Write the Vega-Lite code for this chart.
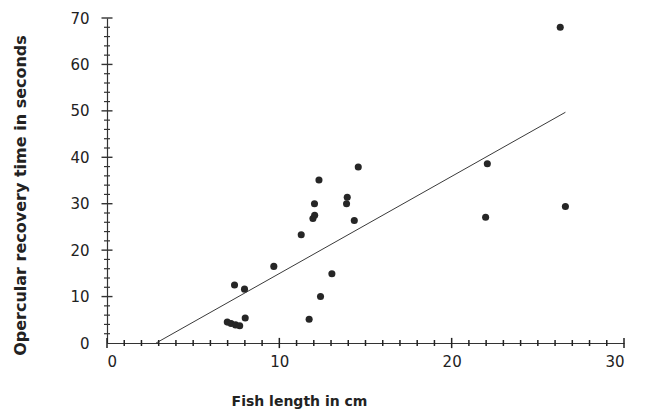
{
  "$schema": "https://vega.github.io/schema/vega-lite/v6.json",
  "autosize": {"type": "none"},
  "padding": {"left": 107, "top": 18, "right": 22, "bottom": 70},
  "width": 517,
  "height": 325,
  "background": "white",
  "config": {
    "view": {"stroke": null},
    "axis": {
      "grid": false,
      "ticks": false,
      "domainColor": "#333333",
      "domainWidth": 1.2,
      "labelFont": "DejaVu Sans",
      "labelFontSize": 15,
      "labelColor": "#222222",
      "titleFont": "DejaVu Sans",
      "titleFontWeight": "bold",
      "titleColor": "#222222"
    }
  },
  "datasets": {
    "points": [
      {"length": 26.3, "time": 68.0},
      {"length": 26.6, "time": 29.4},
      {"length": 22.07, "time": 38.6},
      {"length": 21.97, "time": 27.1},
      {"length": 14.58, "time": 37.9},
      {"length": 12.3, "time": 35.1},
      {"length": 12.04, "time": 30.0},
      {"length": 13.94, "time": 31.4},
      {"length": 13.9, "time": 30.0},
      {"length": 11.95, "time": 26.8},
      {"length": 12.05, "time": 27.5},
      {"length": 14.35, "time": 26.4},
      {"length": 11.27, "time": 23.3},
      {"length": 9.68, "time": 16.5},
      {"length": 13.05, "time": 14.9},
      {"length": 12.39, "time": 10.0},
      {"length": 11.73, "time": 5.1},
      {"length": 7.4, "time": 12.5},
      {"length": 7.98, "time": 11.6},
      {"length": 8.02, "time": 5.4},
      {"length": 6.98, "time": 4.5},
      {"length": 7.2, "time": 4.2},
      {"length": 7.46, "time": 3.9},
      {"length": 7.7, "time": 3.7}
    ],
    "fit": [
      {"length": 2.85, "time": 0},
      {"length": 26.6, "time": 49.7}
    ],
    "xticks": [
      {"v": 1, "kind": "minor"}, {"v": 2, "kind": "minor"}, {"v": 3, "kind": "minor"}, {"v": 4, "kind": "minor"}, {"v": 5, "kind": "minor"},
      {"v": 6, "kind": "minor"}, {"v": 7, "kind": "minor"}, {"v": 8, "kind": "minor"}, {"v": 9, "kind": "minor"},
      {"v": 11, "kind": "minor"}, {"v": 12, "kind": "minor"}, {"v": 13, "kind": "minor"}, {"v": 14, "kind": "minor"}, {"v": 15, "kind": "minor"},
      {"v": 16, "kind": "minor"}, {"v": 17, "kind": "minor"}, {"v": 18, "kind": "minor"}, {"v": 19, "kind": "minor"},
      {"v": 21, "kind": "minor"}, {"v": 22, "kind": "minor"}, {"v": 23, "kind": "minor"}, {"v": 24, "kind": "minor"}, {"v": 25, "kind": "minor"},
      {"v": 26, "kind": "minor"}, {"v": 27, "kind": "minor"}, {"v": 28, "kind": "minor"}, {"v": 29, "kind": "minor"},
      {"v": 0, "kind": "major"}, {"v": 10, "kind": "major"}, {"v": 20, "kind": "major"}, {"v": 30, "kind": "major"}
    ],
    "yticks": [
      {"v": 2, "kind": "minor"}, {"v": 4, "kind": "minor"}, {"v": 6, "kind": "minor"}, {"v": 8, "kind": "minor"},
      {"v": 12, "kind": "minor"}, {"v": 14, "kind": "minor"}, {"v": 16, "kind": "minor"}, {"v": 18, "kind": "minor"},
      {"v": 22, "kind": "minor"}, {"v": 24, "kind": "minor"}, {"v": 26, "kind": "minor"}, {"v": 28, "kind": "minor"},
      {"v": 32, "kind": "minor"}, {"v": 34, "kind": "minor"}, {"v": 36, "kind": "minor"}, {"v": 38, "kind": "minor"},
      {"v": 42, "kind": "minor"}, {"v": 44, "kind": "minor"}, {"v": 46, "kind": "minor"}, {"v": 48, "kind": "minor"},
      {"v": 52, "kind": "minor"}, {"v": 54, "kind": "minor"}, {"v": 56, "kind": "minor"}, {"v": 58, "kind": "minor"},
      {"v": 62, "kind": "minor"}, {"v": 64, "kind": "minor"}, {"v": 66, "kind": "minor"}, {"v": 68, "kind": "minor"},
      {"v": 10, "kind": "major"}, {"v": 20, "kind": "major"}, {"v": 30, "kind": "major"}, {"v": 40, "kind": "major"},
      {"v": 50, "kind": "major"}, {"v": 60, "kind": "major"}, {"v": 70, "kind": "major"}
    ]
  },
  "layer": [
    {
      "data": {"name": "points"},
      "mark": {"type": "circle", "size": 50, "color": "#262626", "opacity": 1},
      "encoding": {
        "x": {
          "field": "length", "type": "quantitative",
          "scale": {"domain": [0, 30], "nice": false, "zero": true},
          "axis": {
            "values": [0, 10, 20, 30],
            "labelPadding": 11,
            "title": "Fish length in cm",
            "titleFontSize": 14,
            "titleX": 192,
            "titleY": 58,
            "titleBaseline": "middle",
            "titleAlign": "center",
            "titleAnchor": null
          }
        },
        "y": {
          "field": "time", "type": "quantitative",
          "scale": {"domain": [0, 70], "nice": false},
          "axis": {
            "values": [0, 10, 20, 30, 40, 50, 60, 70],
            "labelPadding": 18,
            "title": "Opercular recovery time in seconds",
            "titleFontSize": 16,
            "titleX": -87,
            "titleY": 177,
            "titleBaseline": "middle",
            "titleAlign": "center",
            "titleAnchor": null
          }
        }
      }
    },
    {
      "data": {"name": "fit"},
      "mark": {"type": "line", "color": "#3a3a3a", "strokeWidth": 1},
      "encoding": {
        "x": {"field": "length", "type": "quantitative"},
        "y": {"field": "time", "type": "quantitative"}
      }
    },
    {
      "data": {"name": "xticks"},
      "transform": [{"filter": "datum.kind == 'minor'"}],
      "mark": {"type": "rule", "color": "#222222", "strokeWidth": 1.5, "xOffset": 0, "x2Offset": 0},
      "encoding": {
        "x": {"field": "v", "type": "quantitative"},
        "x2": {"field": "v"},
        "y": {"datum": 0.65},
        "y2": {"datum": -0.65}
      }
    },
    {
      "data": {"name": "xticks"},
      "transform": [{"filter": "datum.kind == 'major'"}],
      "mark": {"type": "rule", "color": "#222222", "strokeWidth": 1.5},
      "encoding": {
        "x": {"field": "v", "type": "quantitative"},
        "x2": {"field": "v"},
        "y": {"datum": 1.1},
        "y2": {"datum": -1.1}
      }
    },
    {
      "data": {"name": "yticks"},
      "transform": [{"filter": "datum.kind == 'minor'"}],
      "mark": {"type": "rule", "color": "#333333", "strokeWidth": 1.2, "xOffset": -3, "x2Offset": 3},
      "encoding": {
        "y": {"field": "v", "type": "quantitative"},
        "x": {"datum": 0},
        "x2": {"datum": 0}
      }
    },
    {
      "data": {"name": "yticks"},
      "transform": [{"filter": "datum.kind == 'major'"}],
      "mark": {"type": "rule", "color": "#333333", "strokeWidth": 1.4, "xOffset": -5.5, "x2Offset": 5.5},
      "encoding": {
        "y": {"field": "v", "type": "quantitative"},
        "x": {"datum": 0},
        "x2": {"datum": 0}
      }
    }
  ]
}
